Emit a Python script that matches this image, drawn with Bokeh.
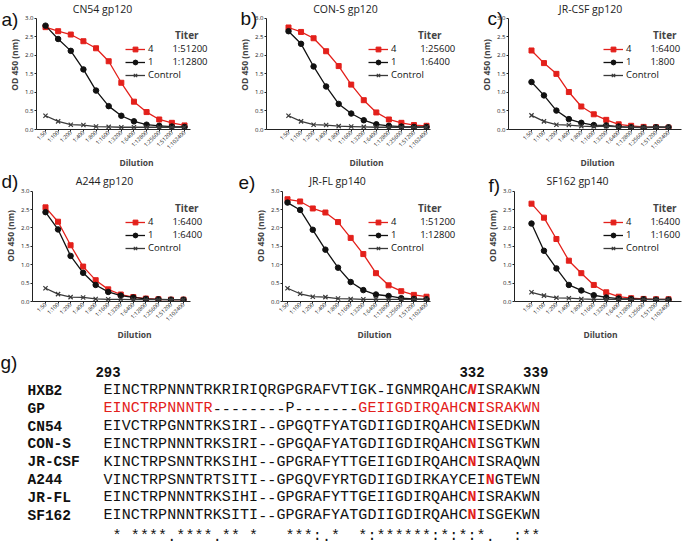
import math
from bokeh.plotting import figure
from bokeh.models import (Range1d, FixedTicker, Legend, LegendItem, Label,
                          ColumnDataSource, PrintfTickFormatter)
from bokeh.layouts import row, column
from bokeh.embed import file_html
from bokeh.resources import INLINE
from bokeh.core.properties import value

# ---------------- data ----------------
dilutions = ["1:50", "1:100", "1:200", "1:400", "1:800", "1:1600", "1:3200",
             "1:6400", "1:12800", "1:25600", "1:51200", "1:102400"]
y_ticks = [0.0, 0.5, 1.0, 1.5, 2.0, 2.5, 3.0]
y_max = 3.0

panel_letters = ["a)", "b)", "c)", "d)", "e)", "f)"]
panel_titles = ["CN54 gp120", "CON-S gp120", "JR-CSF gp120",
                "A244 gp120", "JR-FL gp140", "SF162 gp140"]
group_names = ["4", "1", "Control"]
titer_group4 = ["1:51200", "1:25600", "1:6400", "1:6400", "1:51200", "1:6400"]
titer_group1 = ["1:12800", "1:6400", "1:800", "1:6400", "1:12800", "1:1600"]

cn54_g4 = [2.76, 2.65, 2.56, 2.38, 2.19, 1.84, 1.26, 0.75, 0.47, 0.27, 0.18, 0.11]
cn54_g1 = [2.80, 2.44, 2.12, 1.62, 1.05, 0.63, 0.37, 0.22, 0.13, 0.10, 0.08, 0.07]
cn54_ctrl = [0.37, 0.22, 0.13, 0.12, 0.08, 0.07, 0.06, 0.06, 0.06, 0.06, 0.06, 0.06]

cons_g4 = [2.75, 2.63, 2.46, 2.11, 1.71, 1.21, 0.79, 0.46, 0.27, 0.18, 0.12, 0.10]
cons_g1 = [2.65, 2.31, 1.70, 1.16, 0.69, 0.43, 0.25, 0.14, 0.10, 0.08, 0.07, 0.07]
cons_ctrl = [0.37, 0.22, 0.13, 0.12, 0.09, 0.08, 0.07, 0.06, 0.06, 0.06, 0.06, 0.06]

jrcsf_g4 = [2.13, 1.79, 1.50, 1.01, 0.62, 0.41, 0.26, 0.14, 0.10, 0.07, 0.06, 0.05]
jrcsf_g1 = [1.28, 0.92, 0.51, 0.28, 0.18, 0.12, 0.11, 0.08, 0.06, 0.05, 0.06, 0.06]
jrcsf_ctrl = [0.38, 0.22, 0.13, 0.12, 0.09, 0.08, 0.09, 0.07, 0.06, 0.06, 0.06, 0.06]

a244_g4 = [2.56, 2.17, 1.53, 0.95, 0.58, 0.33, 0.19, 0.12, 0.08, 0.06, 0.05, 0.05]
a244_g1 = [2.43, 1.96, 1.24, 0.78, 0.45, 0.26, 0.16, 0.11, 0.07, 0.06, 0.05, 0.05]
a244_ctrl = [0.36, 0.20, 0.12, 0.11, 0.07, 0.06, 0.06, 0.05, 0.05, 0.05, 0.05, 0.05]

jrfl_g4 = [2.78, 2.72, 2.53, 2.42, 2.16, 1.73, 1.29, 0.77, 0.44, 0.28, 0.18, 0.13]
jrfl_g1 = [2.69, 2.49, 1.95, 1.41, 0.92, 0.53, 0.31, 0.19, 0.15, 0.09, 0.07, 0.06]
jrfl_ctrl = [0.36, 0.21, 0.13, 0.12, 0.08, 0.07, 0.06, 0.06, 0.06, 0.06, 0.06, 0.06]

sf162_g4 = [2.66, 2.28, 1.70, 1.11, 0.77, 0.45, 0.25, 0.13, 0.09, 0.07, 0.06, 0.06]
sf162_g1 = [2.12, 1.38, 0.90, 0.45, 0.30, 0.17, 0.11, 0.08, 0.07, 0.06, 0.05, 0.05]
sf162_ctrl = [0.25, 0.16, 0.10, 0.09, 0.07, 0.06, 0.06, 0.06, 0.06, 0.06, 0.06, 0.06]

series_g4 = [cn54_g4, cons_g4, jrcsf_g4, a244_g4, jrfl_g4, sf162_g4]
series_g1 = [cn54_g1, cons_g1, jrcsf_g1, a244_g1, jrfl_g1, sf162_g1]
series_ctrl = [cn54_ctrl, cons_ctrl, jrcsf_ctrl, a244_ctrl, jrfl_ctrl, sf162_ctrl]

# alignment (panel g)
seq_names = ["HXB2", "GP", "CN54", "CON-S", "JR-CSF", "A244", "JR-FL", "SF162"]
sequences = [
    "EINCTRPNNNTRKRIRIQRGPGRAFVTIGK-IGNMRQAHCNISRAKWN",
    "EINCTRPNNNTR--------P-------GEIIGDIRQAHCNISRAKWN",
    "EIVCTRPGNNTRKSIRI--GPGQTFYATGDIIGDIRQAHCNISEDKWN",
    "EINCTRPNNNTRKSIRI--GPGQAFYATGDIIGDIRQAHCNISGTKWN",
    "KINCTRPSNNTRKSIHI--GPGRAFYTTGEIIGDIRQAHCNISRAQWN",
    "VINCTRPSNNTRTSITI--GPGQVFYRTGDIIGDIRKAYCEINGTEWN",
    "EINCTRPNNNTRKSIHI--GPGRAFYTTGEIIGDIRQAHCNISRAKWN",
    "EINCTRPNNNTRKSITI--GPGRAFYATGDIIGDIRQAHCNISGEKWN",
]
glycan_index = [40, 40, 40, 40, 40, 42, 40, 40]
gp_red_ranges = [(0, 12), (28, 48)]
consensus = " * ****.****.** *   ***:.*  *:******:*:*:*.  :**"
position_labels = ["293", "332", "339"]
position_index = [0, 40, 47]

# ---------------- styling / layout ----------------
RED = "#e3201b"
BLACK = "#111111"
CTRL = "#3a3a3a"
FONT = "Open Sans"
PAGE_W, PAGE_H = 686, 542

# page-pixel layout: fig_x0, fig_w, y-axis x, first point x, last point x,
# x-axis end, legend x, title centre x
chart_layout = [
    (0, 236, 36, 45, 184, 190, 125, 102),
    (236, 230, 266, 288, 426, 430, 368, 345),
    (466, 220, 508, 531, 668, 681, 603, 590),
    (0, 236, 32, 45, 183, 190, 125, 104),
    (236, 230, 282, 287, 426, 430, 368, 337),
    (466, 220, 514, 531, 668, 681, 603, 577),
]
# fig_y0, fig_h, y of 3.0 tick, x-axis y, title y, legend top
row_layout = [
    (0, 170, 18, 131, 10, 30),
    (170, 172, 191, 303, 182.5, 203),
]
# panel letters: left x, baseline y (page px)
letter_x = [1, 240, 487, 1, 238, 488]
letter_y = [19, 18, 18, 181, 182, 185]

E = "\u2002"
label_gap = [E * 4, E * 5, E * 4, E * 4, E * 5, E * 4]
title_pad = ["\u2003" * 5, "\u2003" * 5, "\u2003" * 5,
             "\u2003" * 5, "\u2003" * 5, "\u2003" * 5]
LEG_H = 53


def pad(v, ref):
    return v + ("" if len(v) >= len(ref) else "\u2005")


def make_chart(k):
    fx0, fw, fl, first, last, axis_end, lx, tcx = chart_layout[k]
    fy0, fh, y3, fb, ty, ltop = row_layout[k // 3]
    n = len(dilutions)
    step = (last - first) / (n - 1)
    xs = -(first - fl) / step
    xe = (n - 1) + (fx0 + fw - last) / step
    x_axis_end = (n - 1) + (axis_end - last) / step
    ye = y_max * (fb - fy0) / (fb - y3)
    p = figure(width=fw, height=fh, output_backend="svg", toolbar_location=None,
               title=None, x_range=Range1d(xs, xe), y_range=Range1d(0, ye),
               min_border_left=fl - fx0, min_border_right=0,
               min_border_top=0, min_border_bottom=fy0 + fh - fb)
    p.outline_line_color = None
    p.grid.visible = False
    p.background_fill_color = None
    p.border_fill_color = None

    x = list(range(n))
    src4 = ColumnDataSource(dict(x=x, y=series_g4[k]))
    src1 = ColumnDataSource(dict(x=x, y=series_g1[k]))
    srcc = ColumnDataSource(dict(x=x, y=series_ctrl[k]))
    l4 = p.line("x", "y", source=src4, line_color=RED, line_width=1.3)
    m4 = p.scatter("x", "y", source=src4, marker="square", size=5,
                   fill_color=RED, line_color=RED)
    l1 = p.line("x", "y", source=src1, line_color=BLACK, line_width=1.3)
    m1 = p.scatter("x", "y", source=src1, marker="circle", size=5.5,
                   fill_color=BLACK, line_color=BLACK)
    lc = p.line("x", "y", source=srcc, line_color=CTRL, line_width=1.3)
    mc = p.scatter("x", "y", source=srcc, marker="x", size=6,
                   line_color=CTRL, line_width=1.2)

    # axes
    xa = p.xaxis[0]
    xa.bounds = (xs, x_axis_end)
    xa.ticker = FixedTicker(ticks=x)
    xa.major_label_overrides = {i: d for i, d in enumerate(dilutions)}
    xa.major_label_orientation = math.pi / 4
    xa.major_label_text_font_size = "5.5px"
    xa.major_label_text_font = FONT
    xa.major_label_text_color = "#1a1a1a"
    xa.major_label_standoff = 0
    xa.major_tick_out = 2
    xa.major_tick_in = 0
    xa.minor_tick_out = 0
    xa.axis_label = "Dilution"
    xa.axis_label_text_font = FONT
    xa.axis_label_text_font_style = "bold"
    xa.axis_label_text_font_size = "8.5px"
    xa.axis_label_standoff = 0
    ya = p.yaxis[0]
    ya.bounds = (0, y_max)
    ya.ticker = FixedTicker(ticks=y_ticks)
    ya.formatter = PrintfTickFormatter(format="%.1f")
    ya.major_label_text_font_size = "6px"
    ya.major_label_text_font = FONT
    ya.major_label_text_color = "#1a1a1a"
    ya.major_label_standoff = 1
    ya.major_tick_out = 2
    ya.major_tick_in = 0
    ya.minor_tick_out = 0
    ya.axis_label = "OD 450 (nm)"
    ya.axis_label_text_font = FONT
    ya.axis_label_text_font_style = "bold"
    ya.axis_label_text_font_size = "8.5px"
    ya.axis_label_standoff = 2
    for ax in (xa, ya):
        ax.axis_line_color = "#222222"
        ax.major_tick_line_color = "#222222"

    # legend
    gap = label_gap[k]
    items = [
        LegendItem(label=group_names[0] + gap + pad(titer_group4[k], titer_group1[k]),
                   renderers=[l4, m4]),
        LegendItem(label=group_names[1] + gap + pad(titer_group1[k], titer_group4[k]),
                   renderers=[l1, m1]),
        LegendItem(label=group_names[2], renderers=[lc, mc]),
    ]
    leg = Legend(items=items, location=(lx - fl, fb - (ltop + LEG_H)),
                 title=title_pad[k] + "Titer",
                 title_text_font=FONT, title_text_font_style="bold",
                 title_text_font_size="10px", title_standoff=0,
                 label_text_font=FONT, label_text_font_size="9.5px",
                 label_text_color="#111111",
                 glyph_width=20, glyph_height=12, label_height=12,
                 label_standoff=3, spacing=0, padding=0, margin=0,
                 border_line_color=None, background_fill_alpha=0)
    p.add_layout(leg)

    # chart title
    p.add_layout(Label(x=tcx - fl, y=fb - ty, x_units="screen",
                       y_units="screen", text=panel_titles[k],
                       text_font=FONT, text_font_size="10.5px",
                       text_align="center", text_baseline="middle",
                       text_color="#222222"))
    return p


charts = [make_chart(k) for k in range(6)]

# ---------------- panel g ----------------
G_W, G_H = 686, 200
PITCH_X, PITCH_Y = 9.1, 17.86
x0_px = 107.5       # centre of first residue, px from figure left
y0_px = 48.3        # middle of first row, px from figure top
g = figure(width=G_W, height=G_H, output_backend="svg", toolbar_location=None,
           title=None, x_axis_location=None, y_axis_location=None,
           x_range=Range1d(-x0_px / PITCH_X, (G_W - x0_px) / PITCH_X),
           y_range=Range1d(-(G_H - y0_px) / PITCH_Y, y0_px / PITCH_Y),
           min_border=0)
g.outline_line_color = None
g.grid.visible = False
g.background_fill_color = None
g.border_fill_color = None

cx, cy, ct, cc, cs = [], [], [], [], []
for r, s in enumerate(sequences):
    for i, ch in enumerate(s):
        col, sty = BLACK, "normal"
        if r == 1 and ch != "-" and any(a <= i < b for a, b in gp_red_ranges):
            col = RED
        if i == glycan_index[r]:
            col, sty = RED, ("bold italic" if r == 0 else "bold")
        cx.append(i); cy.append(-r); ct.append(ch); cc.append(col); cs.append(sty)
cons_row = len(sequences) + 0.15
for i, ch in enumerate(consensus):
    if ch != " ":
        cx.append(i); cy.append(-cons_row); ct.append(ch); cc.append(BLACK); cs.append("normal")
res_src = ColumnDataSource(dict(x=cx, y=cy, t=ct, c=cc, s=cs))
g.text("x", "y", text="t", source=res_src, text_color="c", text_font_style="s",
       text_font=value("Liberation Mono"), text_font_size="15px",
       text_align="center", text_baseline="middle")

name_src = ColumnDataSource(dict(x=[(27 - x0_px) / PITCH_X] * len(seq_names),
                                 y=[-r for r in range(len(seq_names))],
                                 t=seq_names))
g.text("x", "y", text="t", source=name_src, text_color=BLACK,
       text_font=value("Liberation Mono"), text_font_style="bold",
       text_font_size="14.5px", text_align="left", text_baseline="middle")

pos_src = ColumnDataSource(dict(x=position_index, y=[1.08] * len(position_index),
                                t=position_labels))
g.text("x", "y", text="t", source=pos_src, text_color=BLACK,
       text_font=value("Liberation Mono"), text_font_style="bold",
       text_font_size="14px", text_align="center", text_baseline="middle")

g.add_layout(Label(x=0, y=G_H - 20, x_units="screen", y_units="screen",
                   text="g)", text_font="Liberation Sans",
                   text_font_size="19px", text_align="left",
                   text_baseline="alphabetic", text_color="#111111"))

# ---------------- overlay with panel letters ----------------
ov = figure(width=PAGE_W, height=PAGE_H, output_backend="svg",
            toolbar_location=None, title=None, x_axis_location=None,
            y_axis_location=None, x_range=Range1d(0, PAGE_W),
            y_range=Range1d(PAGE_H, 0), min_border=0,
            margin=(-PAGE_H, 0, 0, 0))
ov.outline_line_color = None
ov.grid.visible = False
ov.background_fill_color = None
ov.border_fill_color = None
ov.text(x=letter_x, y=letter_y, text=panel_letters,
        text_font=value("Liberation Sans"), text_font_size="19px",
        text_color="#111111", text_align="left", text_baseline="alphabetic")

layout = column(row(*charts[:3]), row(*charts[3:]), g, ov)

with open("out.html", "w") as f:
    f.write(file_html(layout, INLINE))
